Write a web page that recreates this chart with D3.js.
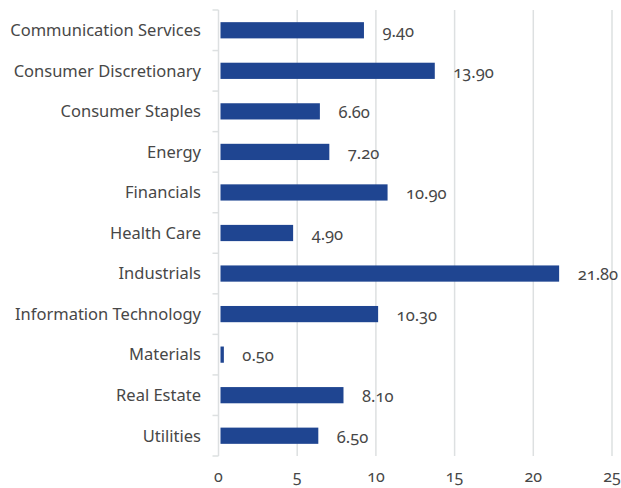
<!DOCTYPE html>
<html>
<head>
<meta charset="UTF-8">
<title>Sector weights</title>
<script src="https://cdn.jsdelivr.net/npm/d3@7"></script>
<style>
  body { margin: 0; background: #fff; }
  text { font-family: "Noto Sans", "Open Sans", sans-serif; font-variant-numeric: oldstyle-nums; fill: #474747; }
</style>
</head>
<body>
<script>
  const sectors = ['Communication Services', 'Consumer Discretionary', 'Consumer Staples', 'Energy',
    'Financials', 'Health Care', 'Industrials', 'Information Technology', 'Materials', 'Real Estate', 'Utilities'];
  const weights = [9.4, 13.9, 6.6, 7.2, 10.9, 4.9, 21.8, 10.3, 0.5, 8.1, 6.5];
  const xTicks = [0, 5, 10, 15, 20, 25];

  const w = 621, h = 488;
  const plotLeft = 218.5, plotRight = 612, plotTop = 10, plotBottom = 456;

  const svg = d3.select('body').append('svg')
    .attr('width', w)
    .attr('height', h);

  const x = d3.scaleLinear().domain([0, 25]).range([plotLeft, plotRight]);
  const y = d3.scaleBand().domain(sectors).range([plotTop, plotBottom]).paddingInner(0.6).paddingOuter(0.3);

  // vertical gridlines
  svg.append('g').selectAll('line')
    .data(xTicks.slice(1))
    .enter().append('line')
    .attr('x1', d => x(d)).attr('x2', d => x(d))
    .attr('y1', plotTop).attr('y2', plotBottom)
    .style('stroke', '#dde0e1')
    .style('stroke-width', 1.5);

  // x tick labels
  svg.append('g').selectAll('text')
    .data(xTicks)
    .enter().append('text')
    .attr('x', d => x(d))
    .attr('y', 482)
    .attr('text-anchor', 'middle')
    .style('font-size', '16px')
    .text(d => d);

  // y axis line and boundary ticks
  const bounds = d3.range(sectors.length + 1).map(i => plotTop + i * (plotBottom - plotTop) / sectors.length);
  svg.append('line')
    .attr('x1', plotLeft).attr('x2', plotLeft)
    .attr('y1', plotTop).attr('y2', plotBottom)
    .style('stroke', '#dde0e1').style('stroke-width', 1.5);
  svg.append('g').selectAll('line')
    .data(bounds)
    .enter().append('line')
    .attr('x1', plotLeft - 6).attr('x2', plotLeft)
    .attr('y1', d => d).attr('y2', d => d)
    .style('stroke', '#dde0e1').style('stroke-width', 1.5);

  // category labels
  svg.append('g').selectAll('text')
    .data(sectors)
    .enter().append('text')
    .attr('x', 201)
    .attr('y', d => y(d) + y.bandwidth() / 2)
    .attr('dy', '0.35em')
    .attr('text-anchor', 'end')
    .style('font-size', '16.5px')
    .text(d => d);

  // bars
  svg.append('g').selectAll('rect')
    .data(weights)
    .enter().append('rect')
    .attr('x', x(0) + 2)
    .attr('y', (d, i) => y(sectors[i]))
    .attr('width', d => Math.max(x(d) - x(0) - 4.5, 3))
    .attr('height', y.bandwidth())
    .style('fill', '#1f4591');

  // value labels
  svg.append('g').selectAll('text')
    .data(weights)
    .enter().append('text')
    .attr('x', d => x(d) + 16)
    .attr('y', (d, i) => y(sectors[i]) + y.bandwidth() / 2 + 1)
    .attr('dy', '0.35em')
    .style('font-size', '16.5px')
    .text(d => d.toFixed(2));
</script>
</body>
</html>
